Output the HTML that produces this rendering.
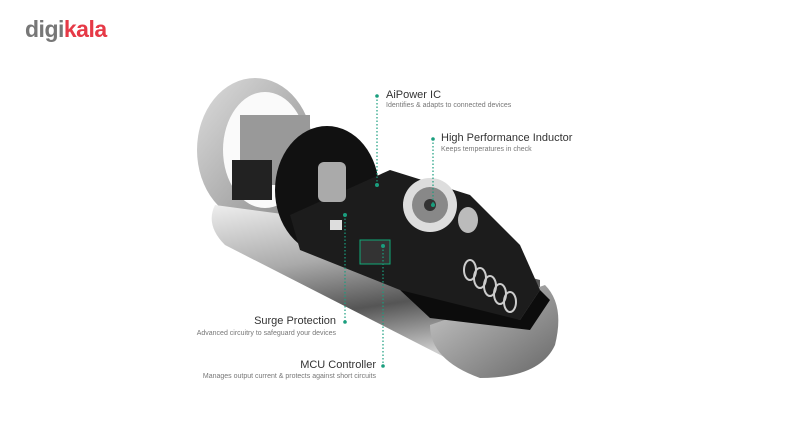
<!DOCTYPE html>
<html><head><style>
html,body{margin:0;padding:0;background:#fff;width:800px;height:438px;overflow:hidden;font-family:"Liberation Sans",sans-serif}
.t{position:absolute;font-size:11px;color:#333;white-space:nowrap}
.s{position:absolute;font-size:7px;color:#777;white-space:nowrap}
</style></head><body>
<div style="position:absolute;left:25px;top:16px;font-size:23px;font-weight:bold;letter-spacing:-0.5px"><span style="color:#777">digi</span><span style="color:#e63946">kala</span></div>
<svg width="800" height="438" style="position:absolute;left:0;top:0">
<defs>
<linearGradient id="sil" x1="0" y1="0" x2="0.3" y2="1"><stop offset="0" stop-color="#eee"/><stop offset="0.4" stop-color="#aaa"/><stop offset="0.7" stop-color="#555"/><stop offset="1" stop-color="#ccc"/></linearGradient>
<linearGradient id="ring" x1="0" y1="0" x2="1" y2="1"><stop offset="0" stop-color="#ddd"/><stop offset="1" stop-color="#888"/></linearGradient>
<linearGradient id="end" x1="0" y1="0" x2="1" y2="1"><stop offset="0" stop-color="#ccc"/><stop offset="1" stop-color="#666"/></linearGradient>
</defs>
<ellipse cx="255" cy="150" rx="58" ry="72" fill="url(#ring)"/>
<ellipse cx="265" cy="150" rx="42" ry="58" fill="#fafafa"/>
<rect x="240" y="115" width="70" height="70" fill="#999"/>
<rect x="232" y="160" width="40" height="40" fill="#222"/>
<path d="M215 205 Q205 225 225 245 L460 365 Q480 372 500 368 L540 330 L540 280 L290 215 Z" fill="url(#sil)"/>
<path d="M430 325 L545 285 Q565 305 555 345 Q540 378 480 378 Q430 360 430 325Z" fill="url(#end)"/>
<ellipse cx="327" cy="190" rx="52" ry="64" fill="#111"/>
<path d="M290 215 L390 170 L470 195 L520 245 L540 290 L520 320 L470 315 L400 290 L300 250 Z" fill="#1c1c1c"/>
<path d="M400 290 L520 320 L540 290 L550 300 L530 330 L430 318 Z" fill="#0c0c0c"/>
<rect x="318" y="162" width="28" height="40" rx="6" fill="#aaa"/>
<circle cx="430" cy="205" r="27" fill="#ddd"/>
<circle cx="430" cy="205" r="18" fill="#888"/>
<circle cx="430" cy="205" r="6" fill="#333"/>
<ellipse cx="468" cy="220" rx="10" ry="13" fill="#bbb"/>
<rect x="360" y="240" width="30" height="24" fill="#333" stroke="#1a7" stroke-width="1"/>
<rect x="330" y="220" width="12" height="10" fill="#ddd"/>
<g fill="none" stroke="#ccc" stroke-width="2">
<ellipse cx="470" cy="270" rx="6" ry="10"/><ellipse cx="480" cy="278" rx="6" ry="10"/><ellipse cx="490" cy="286" rx="6" ry="10"/><ellipse cx="500" cy="294" rx="6" ry="10"/><ellipse cx="510" cy="302" rx="6" ry="10"/>
</g>
<g stroke="#1a9e7e" stroke-width="1.2" stroke-dasharray="1.5 2" fill="#1a9e7e">
<line x1="377" y1="96" x2="377" y2="185"/><circle cx="377" cy="96" r="1.8" stroke="none"/><circle cx="377" cy="185" r="2" stroke="none"/>
<line x1="433" y1="139" x2="433" y2="205"/><circle cx="433" cy="139" r="1.8" stroke="none"/><circle cx="433" cy="205" r="2" stroke="none"/>
<line x1="345" y1="215" x2="345" y2="322"/><circle cx="345" cy="322" r="1.8" stroke="none"/><circle cx="345" cy="215" r="2" stroke="none"/>
<line x1="383" y1="246" x2="383" y2="366"/><circle cx="383" cy="366" r="1.8" stroke="none"/><circle cx="383" cy="246" r="2" stroke="none"/>
</g>
</svg>
<div class="t" style="left:386px;top:89px">AiPower IC</div>
<div class="s" style="left:386px;top:102px">Identifies &amp; adapts to connected devices</div>
<div class="t" style="left:441px;top:132px">High Performance Inductor</div>
<div class="s" style="left:441px;top:146px">Keeps temperatures in check</div>
<div class="t" style="right:464px;top:315px">Surge Protection</div>
<div class="s" style="right:464px;top:330px">Advanced circuitry to safeguard your devices</div>
<div class="t" style="right:424px;top:359px">MCU Controller</div>
<div class="s" style="right:424px;top:373px">Manages output current &amp; protects against short circuits</div>
</body></html>
